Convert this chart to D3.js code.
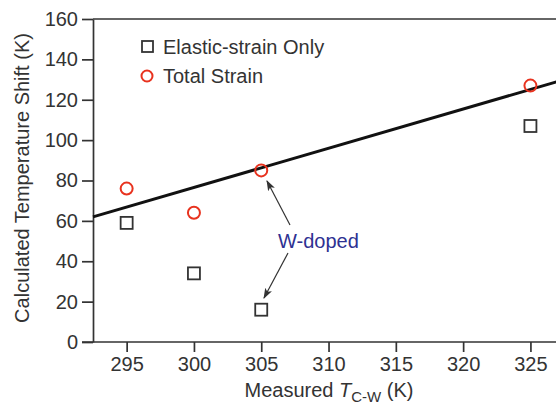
<!DOCTYPE html>
<html><head><meta charset="utf-8">
<script src="https://cdn.jsdelivr.net/npm/d3@7"></script>
<style>body{margin:0;background:#fff}svg{display:block}text{font-family:"Liberation Sans",Arial,sans-serif}</style>
</head><body><svg id="c" width="556" height="404"></svg>
<script>
const xTicks = [295, 300, 305, 310, 315, 320, 325];
const yTicks = [0, 20, 40, 60, 80, 100, 120, 140, 160];
const tempsMeasured = [295, 300, 305, 325];
const elasticOnly = [59, 34, 16, 107];
const totalStrain = [76, 64, 85, 127];
const fitX = [292.5, 327];
const fitY = [62, 129];

const svg = d3.select('#c');
const L = 93, T = 19, B = 342, R = 556;
const x = d3.scaleLinear().domain([292.5, 326.9]).range([L, R]);
const y = d3.scaleLinear().domain([0, 160]).range([B, T]);
const axisCol = '#333';
const fs = '20px';

// top border
svg.append('line').attr('x1', L).attr('x2', R).attr('y1', T).attr('y2', T)
  .attr('stroke', axisCol).attr('stroke-width', 1.7);

const xa = svg.append('g').attr('transform', `translate(0,${B})`)
  .call(d3.axisBottom(x).tickValues(xTicks).tickSize(10).tickPadding(5).tickSizeOuter(0));
const ya = svg.append('g').attr('transform', `translate(${L},0)`)
  .call(d3.axisLeft(y).tickValues(yTicks).tickSize(11).tickPadding(4).tickSizeOuter(0));
[xa, ya].forEach(g => {
  g.select('.domain').attr('stroke', axisCol).attr('stroke-width', 1.7);
  g.selectAll('.tick line').attr('stroke', axisCol).attr('stroke-width', 1.7);
  g.selectAll('.tick text').attr('fill', '#333').style('font-size', fs)
    .style('font-family', '"Liberation Sans",Arial,sans-serif');
});
xa.select('.domain').attr('d', `M${L - 11},0H${R}`);

// fit line
svg.append('line').attr('x1', x(fitX[0])).attr('y1', y(fitY[0]))
  .attr('x2', x(fitX[1])).attr('y2', y(fitY[1]))
  .attr('stroke', '#111').attr('stroke-width', 3);

// squares
const s = 12;
svg.selectAll('rect.el').data(tempsMeasured).join('rect')
  .attr('x', (d) => x(d) - s / 2).attr('y', (d, i) => y(elasticOnly[i]) - s / 2)
  .attr('width', s).attr('height', s).attr('fill', 'none')
  .attr('stroke', '#333').attr('stroke-width', 1.8);
// circles
svg.selectAll('circle.ts').data(tempsMeasured).join('circle')
  .attr('cx', (d) => x(d)).attr('cy', (d, i) => y(totalStrain[i])).attr('r', 6)
  .attr('fill', 'none').attr('stroke', '#e8321e').attr('stroke-width', 2);

// legend
svg.append('rect').attr('x', 142).attr('y', 41).attr('width', 11).attr('height', 11)
  .attr('fill', 'none').attr('stroke', '#333').attr('stroke-width', 1.8);
svg.append('text').attr('x', 163).attr('y', 54).text('Elastic-strain Only')
  .attr('fill', '#333').style('font-size', fs);
svg.append('circle').attr('cx', 147).attr('cy', 76).attr('r', 5.5)
  .attr('fill', 'none').attr('stroke', '#e8321e').attr('stroke-width', 2);
svg.append('text').attr('x', 163).attr('y', 83).text('Total Strain')
  .attr('fill', '#333').style('font-size', fs);

// annotation
const defs = svg.append('defs');
defs.append('marker').attr('id', 'ah').attr('viewBox', '0 0 10 10').attr('refX', 9).attr('refY', 5)
  .attr('markerWidth', 9).attr('markerHeight', 9).attr('orient', 'auto')
  .append('path').attr('d', 'M0,1.5L10,5L0,8.5L2.5,5Z').attr('fill', '#333');
svg.append('line').attr('x1', 290).attr('y1', 225).attr('x2', 267).attr('y2', 181)
  .attr('stroke', '#333').attr('stroke-width', 1.2).attr('marker-end', 'url(#ah)');
svg.append('line').attr('x1', 288).attr('y1', 253).attr('x2', 264).attr('y2', 298)
  .attr('stroke', '#333').attr('stroke-width', 1.2).attr('marker-end', 'url(#ah)');
svg.append('text').attr('x', 278).attr('y', 248).text('W-doped')
  .attr('fill', '#2e3192').style('font-size', fs);

// axis titles
svg.append('text').attr('transform', 'translate(29,178) rotate(-90)').attr('text-anchor', 'middle')
  .attr('fill', '#333').style('font-size', fs).text('Calculated Temperature Shift (K)');
const xt = svg.append('text').attr('x', 329).attr('y', 397).attr('text-anchor', 'middle')
  .attr('fill', '#333').style('font-size', fs);
xt.append('tspan').text('Measured ');
xt.append('tspan').style('font-style', 'italic').text('T');
xt.append('tspan').attr('dy', 5).style('font-size', '15px').text('C-W');
xt.append('tspan').attr('dy', -5).text(' (K)');
</script></body></html>
